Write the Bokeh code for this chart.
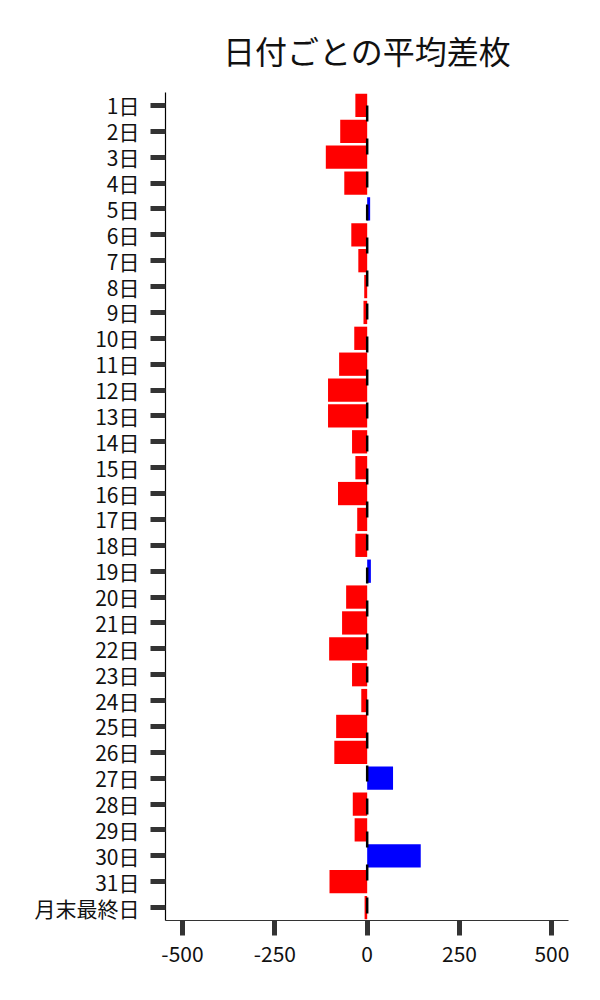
from bokeh.plotting import figure
from bokeh.models import ColumnDataSource, FactorRange, Range1d, Span, FixedTicker, Title
from bokeh.embed import file_html
from bokeh.resources import INLINE

title_text = "日付ごとの平均差枚"
days = [f"{i}日" for i in range(1, 32)] + ["月末最終日"]
values = [-32, -73, -112, -62, 8, -43, -24, -8, -10, -35, -76, -106, -106, -41,
          -32, -79, -27, -32, 10, -57, -68, -103, -41, -16, -84, -89, 70, -39,
          -34, 145, -102, -7]
x_ticks = [-500, -250, 0, 250, 500]
x_tick_labels = ["-500", "-250", "0", "250", "500"]

colors = ["#0000ff" if v > 0 else "#ff0000" for v in values]
src = ColumnDataSource(dict(day=days, val=values, color=colors))

FONT = "Noto Sans CJK JP"

p = figure(width=592, height=992, output_backend="svg", toolbar_location=None,
           y_range=FactorRange(factors=list(reversed(days)), range_padding=0),
           x_range=Range1d(-546, 545),
           min_border_left=165, min_border_right=24, min_border_top=92,
           min_border_bottom=72, title=title_text)

p.hbar(y="day", right="val", left=0, height=0.9, color="color", source=src, line_width=0)
p.add_layout(Span(location=0, dimension="height", line_color="black", line_width=2.5,
                  line_dash="16 17", line_dash_offset=20))

p.title.text_font = FONT
p.title.text_font_size = "32px"
p.title.text_font_style = "normal"
p.title.align = "center"
p.title.text_color = "#111111"
p.title.standoff = 20

# spacer between title and frame
p.add_layout(Title(text=" ", text_font_size="2px", standoff=6), "above")

p.outline_line_color = None
p.xgrid.grid_line_color = None
p.ygrid.grid_line_color = None
p.background_fill_color = "white"

p.xaxis.ticker = FixedTicker(ticks=x_ticks)
p.xaxis.major_label_overrides = {t: l for t, l in zip(x_ticks, x_tick_labels)}
p.xaxis.minor_tick_line_color = None
for ax in (p.xaxis, p.yaxis):
    ax.major_tick_in = 0
    ax.major_tick_out = 15
    ax.major_tick_line_width = 5
    ax.major_tick_line_color = "#333333"
    ax.major_label_text_font = FONT
    ax.major_label_text_font_size = "21px"
    ax.major_label_text_color = "#111111"
p.yaxis.axis_line_color = "black"
p.yaxis.axis_line_width = 1.2
p.xaxis.axis_line_color = "#333333"
p.xaxis.axis_line_width = 1.2
p.yaxis.major_label_standoff = 11
p.xaxis.major_label_standoff = 10

open("out.html", "w").write(file_html(p, INLINE))
